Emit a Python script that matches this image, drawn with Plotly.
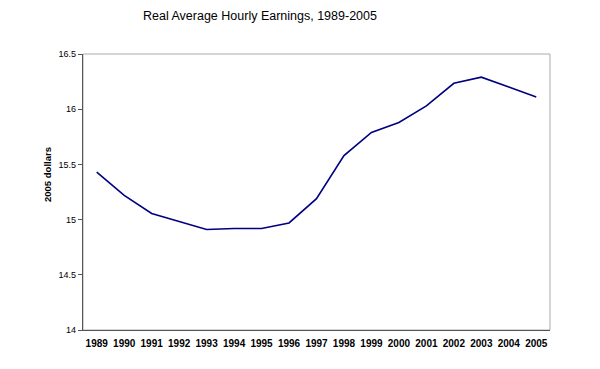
import plotly.graph_objects as go

years = [str(y) for y in range(1989, 2006)]
earnings = [15.43, 15.22, 15.055, 14.98, 14.91, 14.92, 14.92, 14.97, 15.19,
            15.58, 15.79, 15.88, 16.03, 16.235, 16.29, 16.2, 16.11]
y_ticks = [14, 14.5, 15, 15.5, 16, 16.5]
y_tick_labels = ["14", "14.5", "15", "15.5", "16", "16.5"]

fig = go.Figure()
fig.add_trace(go.Scatter(x=years, y=earnings, mode="lines",
                         line=dict(color="#000080", width=1.6),
                         showlegend=False, hoverinfo="skip"))

font_family = "Liberation Sans, Arial, sans-serif"
L, T, R, B = 75, 46, 50, 39
W, H = 592, 361
pw, ph = W - L - R, H - T - B
fig.update_layout(
    width=W, height=H,
    margin=dict(l=L, r=R, t=T, b=B, autoexpand=False),
    paper_bgcolor="white", plot_bgcolor="white",
    font=dict(family=font_family, color="black"),
    xaxis=dict(type="category", showgrid=False, zeroline=False,
               showline=True, linecolor="#555555", linewidth=1.2,
               ticks="", tickfont=dict(size=10, family="Liberation Sans, Arial", weight="bold"),
               ticklen=0, ticklabelstandoff=4, range=[-0.5, 16.5]),
    yaxis=dict(range=[14, 16.5], tickvals=y_ticks, ticktext=y_tick_labels,
               showgrid=False, zeroline=False, showline=True,
               linecolor="#555555", linewidth=1.2, ticks="outside",
               ticklen=4, tickcolor="#555555", tickfont=dict(size=9)),
    shapes=[dict(type="rect", xref="paper", yref="paper", x0=0, y0=0, x1=1, y1=1,
                 line=dict(color="#aaaaaa", width=1), layer="below")],
    annotations=[
        dict(text="Real Average Hourly Earnings, 1989-2005", xref="paper", yref="paper",
             x=(260 - 83) / pw, y=1, yshift=38, showarrow=False,
             font=dict(size=12.5, family=font_family), xanchor="center", yanchor="middle"),
        dict(text="<b>2005 dollars</b>", xref="paper", yref="paper",
             x=(47 - 83) / pw, y=(330 - 175) / ph, textangle=-90, showarrow=False,
             font=dict(size=9.5, family=font_family), xanchor="center", yanchor="middle"),
    ],
)

fig.write_html("out.html")
